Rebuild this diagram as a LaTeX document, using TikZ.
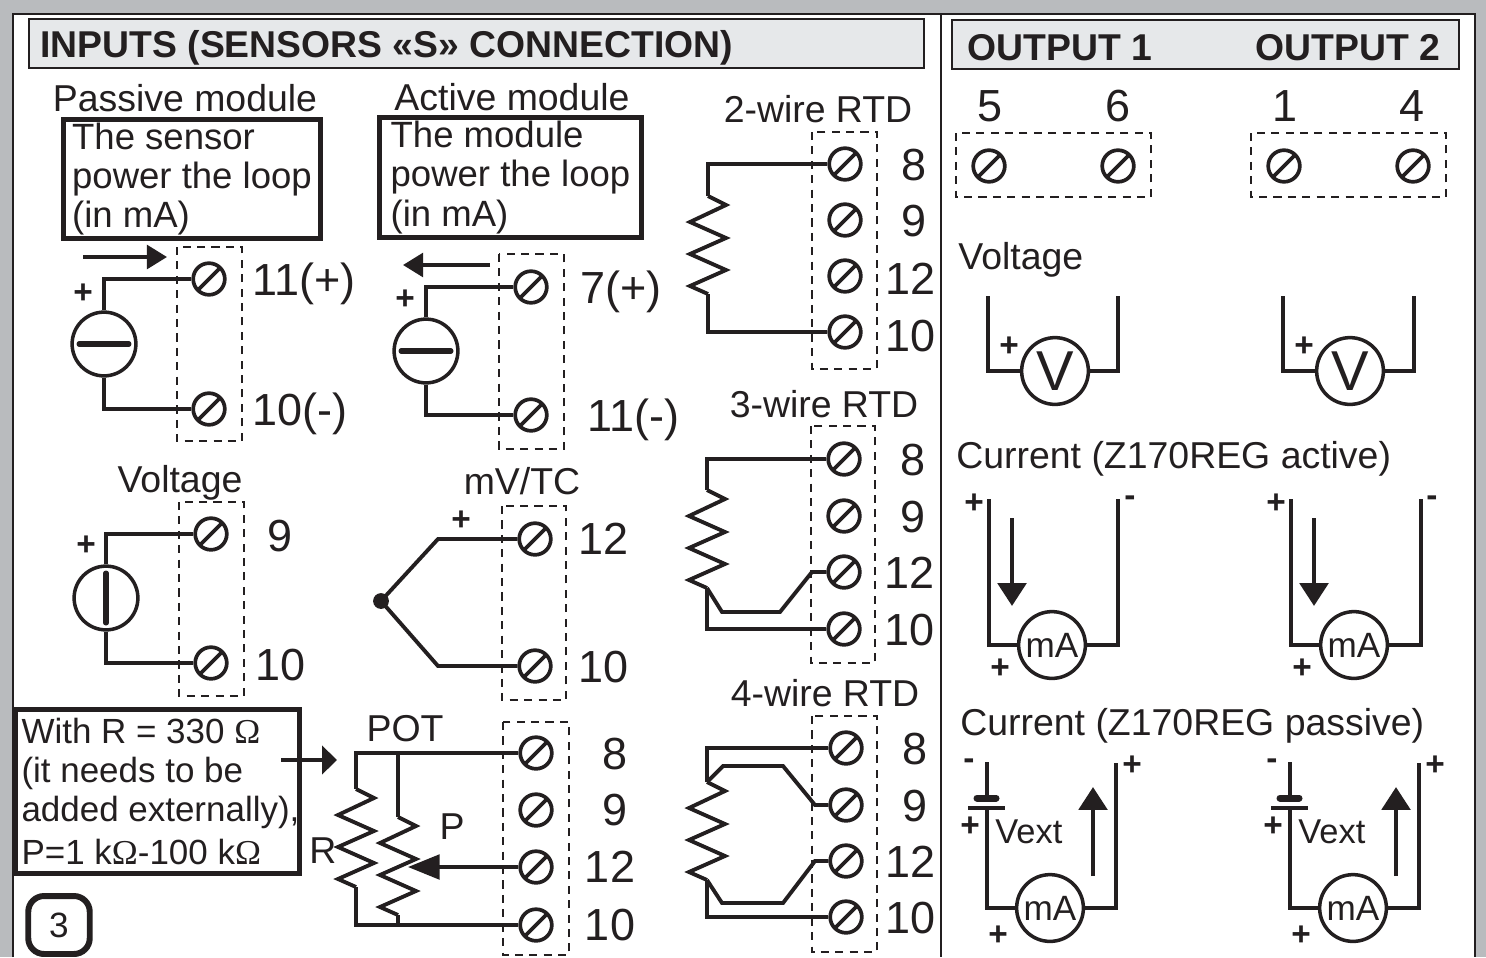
\documentclass[tikz,border=0pt]{standalone}
\usepackage{fontspec}
\setmainfont{Liberation Sans}
\newfontfamily\ohmfont{Liberation Serif}
\newcommand{\ohm}{{\ohmfont Ω}}
\newcommand{\notepad}{\hspace*{3.4pt}}
\usetikzlibrary{arrows.meta}
\definecolor{ink}{HTML}{231F20}
\definecolor{framegray}{HTML}{B9BBBE}
\definecolor{headgray}{HTML}{E6E8EA}
\tikzset{
  wire/.style={draw=ink,line width=2.2pt},
  flow/.style={draw=ink,line width=2pt,-{Triangle[length=11.5pt,width=13.6pt]}},
  wiperflow/.style={draw=ink,line width=2pt,-{Triangle[length=18pt,width=14pt]}},
  potflow/.style={draw=ink,line width=2.8pt,-{Triangle[length=8.5pt,width=16pt]}},
  bigflow/.style={draw=ink,line width=2.8pt,-{Triangle[length=13pt,width=16pt]}},
  dashbox/.style={draw=ink,line width=0.8pt,dash pattern=on 4.6pt off 3.6pt},
  screw/.style={circle,draw=ink,line width=2.1pt,minimum size=18pt,inner sep=0pt,
    path picture={\draw[ink,line width=2.1pt] (path picture bounding box.south west) -- (path picture bounding box.north east);}},
  srch/.style={circle,draw=ink,line width=2pt,minimum size=36.3pt,inner sep=0pt,
    path picture={\draw[ink,line width=3pt,line cap=round] ([xshift=4pt]path picture bounding box.west) -- ([xshift=-4pt]path picture bounding box.east);}},
  srcv/.style={circle,draw=ink,line width=2pt,minimum size=36.3pt,inner sep=0pt,
    path picture={\draw[ink,line width=3pt,line cap=round] ([yshift=-4pt]path picture bounding box.north) -- ([yshift=4pt]path picture bounding box.south);}},
  meter/.style={circle,draw=ink,line width=2pt,minimum size=38pt,inner sep=0pt,text=ink,font=\fontsize{20}{22}\selectfont},
  vmeter/.style={meter,font=\fontsize{32}{34}\selectfont},
  lab/.style={text=ink,inner sep=0pt,font=\fontsize{21.3}{22}\selectfont,text height=15pt,text depth=0pt},
  num/.style={text=ink,inner sep=0pt,font=\fontsize{25.6}{28}\selectfont,text height=18.6pt,text depth=0pt},
  sign/.style={text=ink,inner sep=0pt,yshift=-1pt,font=\bfseries\fontsize{19}{20}\selectfont},
  head/.style={text=ink,inner sep=0pt,font=\bfseries\fontsize{21.25}{23}\selectfont,text height=15.5pt,text depth=0pt},
  notebox/.style={draw=ink,line width=2.9pt,text=ink,inner ysep=0pt,align=left,minimum height=68pt,font=\fontsize{20.8}{22.4}\selectfont},
  rtd/.pic={
    \coordinate (-in) at (0,0);
    \coordinate (-out) at (0,98);
    \draw[wire] (-in) -- (18,9) -- (-18,26) -- (18,42) -- (-18,58) -- (18,74) -- (-18,90) -- (-out);
  }
}
\begin{document}
\begin{tikzpicture}[x=0.02cm,y=-0.02cm]
    \useasboundingbox (0,0) rectangle (1486,957);
    % Frame
    \fill[framegray] (0,0) rectangle (1486,957);
    \fill[white] (13,14) rectangle (1475,957);
    \draw[ink,line width=0.7pt] (13,957) -- (13,14) -- (1475,14) -- (1475,957);
    \draw[ink,line width=0.7pt] (941,14) -- (941,957);

    % Headers
    \draw[ink,line width=0.6pt,fill=headgray] (29,19) rectangle (924,68);
    \draw[ink,line width=0.6pt,fill=headgray] (952,20) rectangle (1459,69);
    \node[head,anchor=west] (inputshead) at (40,44) {INPUTS (SENSORS «S» CONNECTION)};
    \node[head,anchor=west] (outonehead) at (967,47) {OUTPUT 1};
    \node[head,anchor=west] (outtwohead) at (1255,47) {OUTPUT 2};

    % Passive module
    \node[lab] (passivetitle) at (185,98) {Passive module};
    \node[notebox,inner xsep=4.8pt] (passivenote) at (192,179) {The sensor\\power the loop\\(in mA)};
    \coordinate (passivefrom) at (83,257);
    \coordinate (passiveto) at (167,257);
    \draw[flow] (passivefrom) -- (passiveto);
    \draw[dashbox] (177,247) rectangle (242,441);
    \node[screw] (passiveplus) at (209,279) {};
    \node[screw] (passiveminus) at (209,409) {};
    \node[srch] (passivesrc) at (104,344) {};
    \draw[wire] (passivesrc.north) |- (passiveplus.west);
    \draw[wire] (passivesrc.south) |- (passiveminus.west);
    \node[sign] (passivesign) at (83,292) {+};
    \node[num,anchor=west] (passivelabplus) at (252,279) {11(+)};
    \node[num,anchor=west] (passivelabminus) at (252,409) {10(-)};

    % Active module
    \node[lab] (activetitle) at (512,97) {Active module};
    \node[notebox,inner xsep=6.2pt] (activenote) at (510.5,177.5) {The module\\power the loop\\(in mA)};
    \coordinate (activefrom) at (490,265);
    \coordinate (activeto) at (403,265);
    \draw[flow] (activefrom) -- (activeto);
    \draw[dashbox] (499,254) rectangle (564,449);
    \node[screw] (activeplus) at (531,287) {};
    \node[screw] (activeminus) at (531,415) {};
    \node[srch] (activesrc) at (426,351) {};
    \draw[wire] (activesrc.north) |- (activeplus.west);
    \draw[wire] (activesrc.south) |- (activeminus.west);
    \node[sign] (activesign) at (405,298) {+};
    \node[num,anchor=west] (activelabplus) at (580,287) {7(+)};
    \node[num,anchor=west] (activelabminus) at (587,415) {11(-)};

    % Voltage
    \node[lab] (volttitle) at (180,479) {Voltage};
    \draw[dashbox] (179,502) rectangle (244,696);
    \node[screw] (voltplus) at (211,534) {};
    \node[screw] (voltminus) at (211,663) {};
    \node[srcv] (voltsrc) at (106,598) {};
    \draw[wire] (voltsrc.north) |- (voltplus.west);
    \draw[wire] (voltsrc.south) |- (voltminus.west);
    \node[sign] (voltsign) at (86,544) {+};
    \node[num] (voltlabplus) at (280,535) {9};
    \node[num,anchor=west] (voltlabminus) at (255,664) {10};

    % mV/TC
    \node[lab] (tctitle) at (522,481) {mV/TC};
    \draw[dashbox] (502,506) rectangle (566,700);
    \node[screw] (tcplus) at (535,539) {};
    \node[screw] (tcminus) at (535,666) {};
    \node[circle,fill=ink,minimum size=9pt,inner sep=0pt] (tcjoint) at (381,601) {};
    \coordinate (tcup) at (438,539);
    \coordinate (tcdown) at (438,666);
    \draw[wire] (tcjoint.center) -- (tcup) -- (tcplus.west);
    \draw[wire] (tcjoint.center) -- (tcdown) -- (tcminus.west);
    \node[sign] (tcsign) at (461,519) {+};
    \node[num,anchor=west] (tclabplus) at (578,538) {12};
    \node[num,anchor=west] (tclabminus) at (578,666) {10};

    % Potentiometer
    \node[draw=ink,line width=2.9pt,text=ink,inner xsep=0pt,inner ysep=0pt,minimum width=159pt,minimum height=93.5pt,align=left,font=\fontsize{19.9}{22}\selectfont] (potnote) at (157.5,791.5) {\notepad With R = 330 \ohm\\\notepad(it needs to be\\\notepad added externally),\\[2.4pt]\notepad P=1 k\ohm-100 k\ohm};
    \coordinate (potfrom) at (281,760);
    \coordinate (potto) at (337,760);
    \draw[potflow] (potfrom) -- (potto);
    \node[lab] (pottitle) at (405,728) {POT};
    \draw[dashbox] (503,722) rectangle (569,955);
    \foreach \n/\y in {8/753,9/810,12/867,10/925} \node[screw] (pot\n) at (536,\y) {};
    \pic (potr) at (356,789) {rtd};
    \pic (potp) at (398,817) {rtd};
    \coordinate (pottop) at (356,753);
    \coordinate (potwiper) at (398,753);
    \coordinate (potbot) at (356,925);
    \coordinate (potbotp) at (398,925);
    \coordinate (pottip) at (408,867);
    \draw[wire] (potr-in) -- (pottop) -- (pot8.west);
    \draw[wire] (potwiper) -- (potp-in);
    \draw[wire] (potr-out) -- (potbot) -- (pot10.west);
    \draw[wire] (potp-out) -- (potbotp);
    \draw[wiperflow] (pot12.west) -- (pottip);
    \node[lab] (potlabr) at (323,850) {R};
    \node[lab] (potlabp) at (452,826) {P};
    \foreach \n/\x/\y in {8/615/753,9/615/809,12/610/866,10/610/924} \node[num] (potlab\n) at (\x,\y) {\n};

    % Page number
    \node[draw=ink,line width=3.4pt,rounded corners=9pt,minimum width=35pt,minimum height=33pt,inner sep=0pt,text=ink,font=\fontsize{20}{22}\selectfont] (pagenum) at (59,925) {3};

    % 2-wire RTD
    \node[lab] (rtdtwotitle) at (818,109) {2-wire RTD};
    \draw[dashbox] (812,132) rectangle (877,369);
    \foreach \n/\y in {8/164,9/220,12/276,10/332} \node[screw] (rtdtwo\n) at (845,\y) {};
    \pic (rtdtwores) at (708,196) {rtd};
    \coordinate (rtdtwotop) at (708,164);
    \coordinate (rtdtwobot) at (708,332);
    \draw[wire] (rtdtwores-in) -- (rtdtwotop) -- (rtdtwo8.west);
    \draw[wire] (rtdtwores-out) -- (rtdtwobot) -- (rtdtwo10.west);
    \foreach \n/\x/\y in {8/914/164,9/914/220,12/910/278,10/910/335} \node[num] (rtdtwolab\n) at (\x,\y) {\n};

    % 3-wire RTD
    \node[lab] (rtdthreetitle) at (824,404) {3-wire RTD};
    \draw[dashbox] (811,426) rectangle (875,663);
    \foreach \n/\y in {8/459,9/516,12/572,10/629} \node[screw] (rtdthree\n) at (844,\y) {};
    \pic (rtdthreeres) at (707,490) {rtd};
    \coordinate (rtdthreetop) at (707,459);
    \coordinate (rtdthreebot) at (707,629);
    \coordinate (rtdthreea) at (722,612);
    \coordinate (rtdthreeb) at (780,612);
    \coordinate (rtdthreec) at (812,572);
    \draw[wire] (rtdthreeres-in) -- (rtdthreetop) -- (rtdthree8.west);
    \draw[wire] (rtdthreeres-out) -- (rtdthreebot) -- (rtdthree10.west);
    \draw[wire] (rtdthreeres-out) -- (rtdthreea) -- (rtdthreeb) -- (rtdthreec) -- (rtdthree12.west);
    \foreach \n/\x/\y in {8/913/459,9/913/516,12/909/572,10/909/629} \node[num] (rtdthreelab\n) at (\x,\y) {\n};

    % 4-wire RTD
    \node[lab] (rtdfourtitle) at (825,693) {4-wire RTD};
    \draw[dashbox] (812,716) rectangle (877,952);
    \foreach \n/\y in {8/748,9/805,12/861,10/917} \node[screw] (rtdfour\n) at (846,\y) {};
    \pic (rtdfourres) at (707,782) {rtd};
    \coordinate (rtdfourtop) at (707,748);
    \coordinate (rtdfourbot) at (707,917);
    \coordinate (rtdfoura) at (723,766);
    \coordinate (rtdfourb) at (783,766);
    \coordinate (rtdfourc) at (815,805);
    \coordinate (rtdfourd) at (722,903);
    \coordinate (rtdfoure) at (783,903);
    \coordinate (rtdfourf) at (815,861);
    \draw[wire] (rtdfourres-in) -- (rtdfourtop) -- (rtdfour8.west);
    \draw[wire] (rtdfourres-in) -- (rtdfoura) -- (rtdfourb) -- (rtdfourc) -- (rtdfour9.west);
    \draw[wire] (rtdfourres-out) -- (rtdfourbot) -- (rtdfour10.west);
    \draw[wire] (rtdfourres-out) -- (rtdfourd) -- (rtdfoure) -- (rtdfourf) -- (rtdfour12.west);
    \foreach \n/\x/\y in {8/915/748,9/915/805,12/910/861,10/910/917} \node[num] (rtdfourlab\n) at (\x,\y) {\n};

    % Output terminals
    \draw[dashbox] (956,133) rectangle (1151,197);
    \draw[dashbox] (1251,133) rectangle (1446,197);
    \foreach \n/\x/\lx in {5/989/990,6/1118/1118,1/1284/1285,4/1413/1412} {
      \node[screw] (out\n) at (\x,166) {};
      \node[num] (outlab\n) at (\lx,105) {\n};
    }

    % Output voltage
    \node[lab,anchor=west] (outvolttitle) at (958,256) {Voltage};
    \foreach \m/\cx/\lx/\rx/\px in {a/1055/988/1118/1009,b/1350/1283/1414/1304} {
      \node[vmeter] (vm\m) at (\cx,371) {V};
      \coordinate (vmleft\m) at (\lx,296);
      \coordinate (vmright\m) at (\rx,296);
      \draw[wire] (vmleft\m) |- (vm\m.west);
      \draw[wire] (vmright\m) |- (vm\m.east);
      \node[sign] (vmsign\m) at (\px,345) {+};
    }

    % Output current, active
    \node[lab,anchor=west] (activecurrtitle) at (956,455) {Current (Z170REG active)};
    \foreach \m/\cx/\lx/\rx/\sx/\mx/\ax/\bx in {a/1052/989/1118/974/1130/1012/1000,b/1354/1291/1421/1276/1432/1314/1302} {
      \node[meter] (am\m) at (\cx,645) {mA};
      \coordinate (amleft\m) at (\lx,499);
      \coordinate (amright\m) at (\rx,499);
      \draw[wire] (amleft\m) |- (am\m.west);
      \draw[wire] (amright\m) |- (am\m.east);
      \node[sign] (amplus\m) at (\sx,502) {+};
      \node[sign] (amminus\m) at (\mx,499) {-};
      \node[sign] (ambot\m) at (\bx,667) {+};
      \coordinate (amfrom\m) at (\ax,518);
      \coordinate (amto\m) at (\ax,606);
      \draw[bigflow] (amfrom\m) -- (amto\m);
    }

    % Output current, passive
    \node[lab,anchor=west] (passivecurrtitle) at (960,722) {Current (Z170REG passive)};
    \foreach \m/\dx in {a/0,b/303} {
      \begin{scope}[shift={(\dx,0)}]
        \node[meter] (pm\m) at (1050,908) {mA};
        \coordinate (pmtop\m) at (987,762);
        \coordinate (pmshort\m) at (987,798);
        \coordinate (pmlong\m) at (987,808);
        \coordinate (pmright\m) at (1116,763);
        \draw[wire] (pmtop\m) -- (pmshort\m);
        \draw[ink,line width=4pt,line cap=round] (977,798) -- (996,798);
        \draw[ink,line width=1.8pt] (968,808) -- (1005,808);
        \draw[wire] (pmlong\m) |- (pm\m.west);
        \draw[wire] (pmright\m) |- (pm\m.east);
        \node[sign] (pmminus\m) at (969,762) {-};
        \node[sign] (pmplus\m) at (1132,764) {+};
        \node[sign] (pmbat\m) at (970,825) {+};
        \node[sign] (pmbot\m) at (998,934) {+};
        \node[lab,anchor=west,font=\fontsize{19.6}{21}\selectfont] (pmvext\m) at (995,830) {Vext};
        \coordinate (pmfrom\m) at (1093,876);
        \coordinate (pmto\m) at (1093,787);
        \draw[bigflow] (pmfrom\m) -- (pmto\m);
      \end{scope}
    }
\end{tikzpicture}
\end{document}
